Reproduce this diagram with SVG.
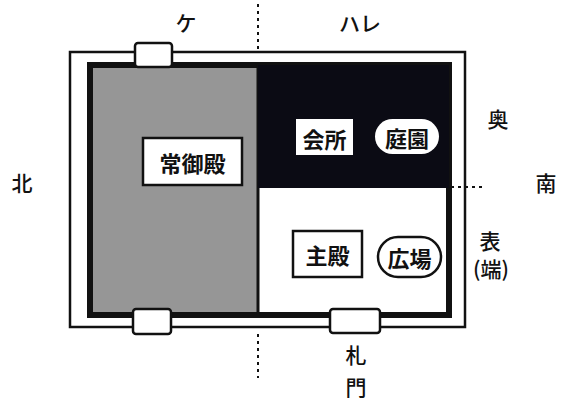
<svg xmlns="http://www.w3.org/2000/svg" width="565" height="405" viewBox="0 0 565 405">
<style>
.t{font-family:"Noto Sans CJK JP","Noto Sans CJK SC",sans-serif;font-size:22px;font-weight:bold;fill:#111;text-anchor:middle;dominant-baseline:central}
.l{font-weight:500;font-size:21px}
.b{fill:#fff;stroke:#111;stroke-width:2.5}
.dot{stroke:#111;stroke-width:2;stroke-dasharray:3 4;fill:none}
</style>
<rect width="565" height="405" fill="#fff"/>
<g id="frame">
<rect x="70" y="52" width="395" height="275" fill="#fff" stroke="#111" stroke-width="2.5"/>
<rect x="90" y="65" width="359" height="250" fill="#fff" stroke="#111" stroke-width="6"/>
</g>
<g id="ke-area">
<rect x="93" y="68" width="165" height="244" fill="#969696"/>
<line x1="258" y1="65" x2="258" y2="315" stroke="#111" stroke-width="3"/>
</g>
<g id="oku-area">
<rect x="258" y="65" width="191" height="123" fill="#0b0b14"/>
</g>
<g id="gates">
<rect class="b" x="135" y="43" width="37" height="24" rx="3"/>
<rect class="b" x="133" y="309" width="38" height="25" rx="3"/>
<rect class="b" x="330" y="309" width="50" height="24" rx="3"/>
</g>
<g id="connectors">
<line class="dot" x1="258" y1="4" x2="258" y2="50"/>
<line class="dot" x1="258" y1="334" x2="258" y2="378"/>
<line class="dot" x1="451" y1="187" x2="486" y2="187"/>
</g>
<g id="jogoden">
<rect class="b" x="143" y="138" width="99" height="47" stroke-width="3"/>
<text class="t" x="192.5" y="162">常御殿</text>
</g>
<g id="kaisho">
<rect x="296" y="119" width="57" height="36" fill="#fff"/>
<text class="t" x="324.5" y="137.5">会所</text>
</g>
<g id="teien">
<rect x="375" y="119" width="64" height="35" rx="17.5" fill="#fff"/>
<text class="t" x="407" y="136.5">庭園</text>
</g>
<g id="shuden">
<rect class="b" x="293" y="231" width="69" height="46"/>
<text class="t" x="327.5" y="254">主殿</text>
</g>
<g id="hiroba">
<rect class="b" x="378" y="237" width="63" height="40" rx="20" stroke-width="2"/>
<text class="t" x="409.5" y="257">広場</text>
</g>
<g id="labels">
<text class="t l" x="186" y="22">ケ</text>
<text class="t l" x="360" y="22">ハレ</text>
<text class="t l" x="22" y="182">北</text>
<text class="t l" x="546" y="182">南</text>
<text class="t l" x="498" y="118">奥</text>
<text class="t l" x="490" y="240">表</text>
<text class="t l" x="491" y="268">(端)</text>
<text class="t l" x="356" y="354">札</text>
<text class="t l" x="356" y="386">門</text>
</g>
</svg>
